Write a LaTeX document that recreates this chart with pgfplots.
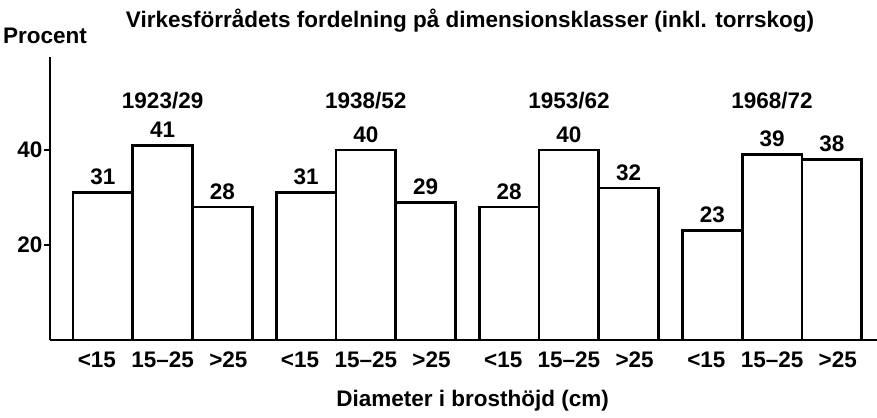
\documentclass[border=0pt]{standalone}
\usepackage{fontspec}
\setmainfont{Liberation Sans}
\usepackage{pgfplots}
\pgfplotsset{compat=1.18}
\newcommand\lab{\fontsize{22.5}{26}\selectfont\bfseries}
\begin{document}
\begin{tikzpicture}
\begin{axis}[
  x=59.75pt, y=4.75pt,
  xmin=-0.885, xmax=12.956, ymin=0, ymax=59.6,
  axis x line=bottom, axis y line=left,
  axis line style={-, line width=2.4pt},
  clip=false,
  ytick={20,40},
  ytick align=outside,
  major tick length=6pt,
  ytick style={line width=2pt, black},
  xtick style={draw=none},
  /pgf/number format/assume math mode=true,
  yticklabel style={font=\lab, xshift=2pt},
  xtick={-0.1,1,2.1,3.3,4.4,5.5,6.7,7.8,8.9,10.1,11.2,12.3},
  xticklabels={<15,15--25,>25,<15,15--25,>25,<15,15--25,>25,<15,15--25,>25},
  xticklabel style={font=\lab, yshift=-5pt},
]
\addplot[ybar, bar width=1, draw=black, fill=white, line width=2.8pt,
  nodes near coords, nodes near coords style={font=\lab, anchor=south, yshift=3pt}]
  coordinates {(0,31) (1,41) (2,28) (3.4,31) (4.4,40) (5.4,29) (6.8,28) (7.8,40) (8.8,32) (10.2,23) (11.2,39) (12.2,38)};
\node[font=\lab] at (axis cs:1,50.5) {1923/29};
\node[font=\lab] at (axis cs:4.4,50.5) {1938/52};
\node[font=\lab] at (axis cs:7.8,50.5) {1953/62};
\node[font=\lab] at (axis cs:11.2,50.5) {1968/72};
\node[font=\lab] at (axis cs:6.144,67.2) {Virkesförrådets fordelning på dimensionsklasser (inkl. torrskog)};
\node[font=\lab, anchor=west, inner sep=0pt] at (axis cs:-1.672,64) {Procent};
\node[font=\lab] at (axis cs:6.19,-12.8) {Diameter i brosthöjd (cm)};
\coordinate (bl) at (axis cs:-1.722,-16.42);
\coordinate (tr) at (axis cs:12.956,71.58);
\end{axis}
\pgfresetboundingbox
\path[use as bounding box] (bl) rectangle (tr);
\end{tikzpicture}
\end{document}
